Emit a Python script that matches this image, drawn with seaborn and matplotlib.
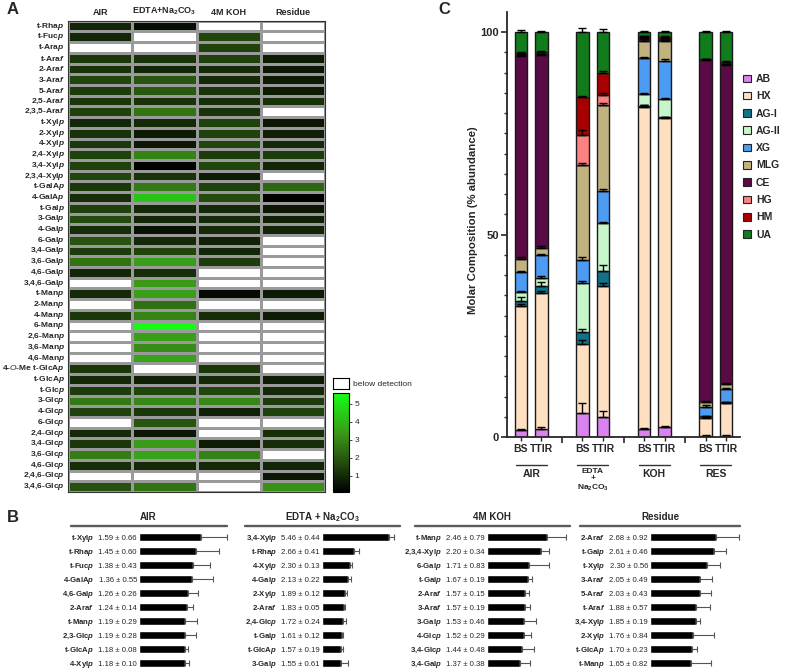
import numpy as np
import pandas as pd
import matplotlib
matplotlib.use('Agg')
import matplotlib.pyplot as plt
import seaborn as sns
from matplotlib.colors import LinearSegmentedColormap, ListedColormap
from matplotlib.patches import Patch
from matplotlib.lines import Line2D
from matplotlib.ticker import FixedLocator

sns.set_style('white')
plt.rcParams['font.family'] = ['Liberation Sans', 'DejaVu Sans']
plt.rcParams.update({'mathtext.fontset': 'custom',
                     'mathtext.rm': 'Liberation Sans',
                     'mathtext.it': 'Liberation Sans:italic',
                     'mathtext.bf': 'Liberation Sans:bold'})
try:
    plt.rcParams['mathtext.bfit'] = 'Liberation Sans:italic:bold'
    HAS_BFIT = True
except KeyError:
    HAS_BFIT = False

N = np.nan
# ---------------- Panel A data ----------------
heat_cols = ['AIR', 'EDTA+Na$_\\mathbf{2}$CO$_\\mathbf{3}$', '4M KOH', 'Residue']
heat_rows = ['t-Rhap', 't-Fucp', 't-Arap', 't-Araf', '2-Araf', '3-Araf', '5-Araf', '2,5-Araf',
             '2,3,5-Araf', 't-Xylp', '2-Xylp', '4-Xylp', '2,4-Xylp', '3,4-Xylp', '2,3,4-Xylp',
             't-GalAp', '4-GalAp', 't-Galp', '3-Galp', '4-Galp', '6-Galp', '3,4-Galp', '3,6-Galp',
             '4,6-Galp', '3,4,6-Galp', 't-Manp', '2-Manp', '4-Manp', '6-Manp', '2,6-Manp',
             '3,6-Manp', '4,6-Manp', '4-O-Me t-GlcAp', 't-GlcAp', 't-Glcp', '3-Glcp', '4-Glcp',
             '6-Glcp', '2,4-Glcp', '3,4-Glcp', '3,6-Glcp', '4,6-Glcp', '2,4,6-Glcp', '3,4,6-Glcp']
heat_air = [0.9, 0.9, N, 1.3, 1.2, 1.6, 1.4, 1.3, 1.5, 0.9, 1.2, 1.3, 1.5, 1.5, 1.6,
            1.3, 1.1, 1.5, 1.7, 1.1, 1.9, 1.4, 2.6, 0.9, N, 1.0, N, 1.3, N, N,
            N, N, 1.3, 1.0, 1.4, 2.7, 1.5, N, 1.0, 1.3, 2.8, 1.1, N, 1.8]
heat_edta = [0.4, N, N, 1.2, 0.9, 1.9, 2.0, 1.2, 2.6, 1.0, 0.7, 0.6, 2.9, 0.15, 1.2,
             2.7, 4.3, 1.0, 0.9, 0.5, 1.0, 1.6, 3.5, 1.1, 3.4, 3.5, 2.5, 2.9, 5.5, 3.5,
             3.1, 3.6, N, 0.8, 1.6, 3.0, 1.3, 1.9, 0.6, 3.4, 3.6, 1.0, N, 2.6]
heat_koh = [N, 1.6, 1.5, 1.5, 1.0, 1.0, 1.2, 1.1, 1.2, 1.5, 1.5, 1.6, 1.4, 1.6, 0.7,
            1.5, 1.7, 1.0, 1.0, 1.0, 0.8, 0.9, 1.4, N, N, 0.3, N, 1.1, N, N,
            N, N, 1.3, 1.0, 1.6, 3.0, 0.8, N, N, 0.7, 2.9, 1.0, N, N]
heat_res = [N, N, N, 0.7, 0.6, 0.7, 0.7, 1.2, N, 0.6, 0.8, 1.0, 1.4, 0.9, N,
            2.3, 0.15, 0.6, 0.8, 0.9, N, N, N, N, N, 0.7, N, 0.7, N, N,
            N, N, N, 0.7, 1.0, 1.4, 1.5, N, 1.1, 1.1, N, 0.9, 0.6, 3.2]

# ---------------- Panel B data ----------------
b_titles = ['AIR', 'EDTA + Na$_\\mathbf{2}$CO$_\\mathbf{3}$', '4M KOH', 'Residue']
b_air_names = ['t-Xylp', 't-Rhap', 't-Fucp', '4-GalAp', '4,6-Galp', '2-Araf', 't-Manp', '2,3-Glcp', 't-GlcAp', '4-Xylp']
b_air_vals = [1.59, 1.45, 1.38, 1.36, 1.26, 1.24, 1.19, 1.19, 1.18, 1.18]
b_air_errs = [0.66, 0.60, 0.43, 0.55, 0.26, 0.14, 0.29, 0.28, 0.08, 0.10]
b_edta_names = ['3,4-Xylp', 't-Rhap', '4-Xylp', '4-Galp', '2-Xylp', '2-Araf', '2,4-Glcp', 't-Galp', 't-GlcAp', '3-Galp']
b_edta_vals = [5.46, 2.66, 2.30, 2.13, 1.89, 1.83, 1.72, 1.61, 1.57, 1.55]
b_edta_errs = [0.44, 0.41, 0.13, 0.22, 0.12, 0.05, 0.24, 0.12, 0.19, 0.61]
b_koh_names = ['t-Manp', '2,3,4-Xylp', '6-Galp', 't-Galp', '2-Araf', '3-Araf', '3-Galp', '4-Glcp', '3,4-Glcp', '3,4-Galp']
b_koh_vals = [2.46, 2.20, 1.71, 1.67, 1.57, 1.57, 1.53, 1.52, 1.44, 1.37]
b_koh_errs = [0.79, 0.34, 0.83, 0.19, 0.15, 0.19, 0.46, 0.29, 0.48, 0.38]
b_res_names = ['2-Araf', 't-Galp', 't-Xylp', '3-Araf', '5-Araf', 't-Araf', '3,4-Xylp', '2-Xylp', 't-GlcAp', 't-Manp']
b_res_vals = [2.68, 2.61, 2.30, 2.05, 2.03, 1.88, 1.85, 1.76, 1.70, 1.65]
b_res_errs = [0.92, 0.46, 0.56, 0.49, 0.43, 0.57, 0.19, 0.84, 0.23, 0.82]

# ---------------- Panel C data ----------------
c_groups = ['AIR', 'EDTA\n+\nNa$_\\mathbf{2}$CO$_\\mathbf{3}$', 'KOH', 'RES']
c_bar_labels = ['BS', 'TTIR', 'BS', 'TTIR', 'BS', 'TTIR', 'BS', 'TTIR']
c_components = ['AB', 'HX', 'AG-I', 'AG-II', 'XG', 'MLG', 'CE', 'HG', 'HM', 'UA']
c_colors = ['#d982f0', '#fedfc2', '#137287', '#c8f6cb', '#4c9cf4', '#c0b380', '#5a0a45', '#fb8282', '#a80000', '#107c1c']
c_AB = [1.7, 2.1, 6.0, 5.0, 1.9, 2.4, 0.3, 0.3]
c_HX = [30.7, 33.5, 17.1, 32.4, 79.7, 76.3, 4.5, 8.0]
c_AGI = [1.3, 1.7, 2.9, 3.7, 0.3, 0.3, 0.3, 0.3]
c_AGII = [2.2, 2.1, 12.1, 11.7, 2.8, 4.4, 0.0, 0.0]
c_XG = [4.9, 5.5, 5.6, 8.0, 9.0, 9.5, 2.4, 3.2]
c_MLG = [3.3, 1.9, 23.6, 21.2, 4.2, 5.0, 1.2, 1.4]
c_CE = [50.0, 47.5, 0.0, 0.0, 0.5, 0.3, 84.5, 78.7]
c_HG = [0.2, 0.2, 7.3, 2.4, 0.2, 0.2, 0.2, 0.2]
c_HM = [0.5, 0.5, 9.3, 5.6, 0.4, 0.5, 0.0, 0.6]
c_UA = [5.2, 5.0, 16.1, 10.0, 1.0, 1.1, 6.6, 7.3]
e_AB = [0.3, 0.4, 2.5, 1.5, 0.3, 0.2, 0.1, 0.1]
e_HX = [0.5, 0.4, 0.8, 0.7, 0.5, 0.4, 0.2, 0.2]
e_AGI = [0.8, 1.0, 0.8, 1.5, 0.1, 0.1, 0.1, 0.1]
e_AGII = [0.2, 0.3, 0.4, 0.4, 0.3, 0.4, 0.0, 0.0]
e_XG = [0.3, 0.3, 0.7, 0.4, 0.3, 0.4, 0.3, 0.3]
e_MLG = [0.3, 0.3, 0.4, 0.6, 0.7, 0.7, 0.2, 0.2]
e_CE = [0.3, 0.3, 0.0, 0.0, 0.2, 0.2, 0.3, 0.3]
e_HG = [0.2, 0.2, 1.2, 0.7, 0.1, 0.1, 0.1, 0.1]
e_HM = [0.3, 0.3, 0.3, 0.4, 0.1, 0.1, 0.0, 0.3]
e_UA = [0.5, 0.4, 1.0, 0.8, 0.2, 0.2, 0.4, 0.4]
c_values = [c_AB, c_HX, c_AGI, c_AGII, c_XG, c_MLG, c_CE, c_HG, c_HM, c_UA]
c_errors = [e_AB, e_HX, e_AGI, e_AGII, e_XG, e_MLG, e_CE, e_HG, e_HM, e_UA]
c_positions = [0, 1, 3, 4, 6, 7, 9, 10]

# ---------------- helpers ----------------
W, H = 787, 672
fig = plt.figure(figsize=(W / 100, H / 100), dpi=100)


def px_axes(x0, y0, x1, y1):
    return fig.add_axes([x0 / W, 1 - y1 / H, (x1 - x0) / W, (y1 - y0) / H])


def glyco(name):
    base, suf = name[:-1], name[-1]
    base = base.replace('-O-', r'-$\mathit{O}$-')
    if HAS_BFIT:
        return base + r'$\mathbfit{' + suf + '}$'
    return base + r'$\mathit{' + suf + '}$'


# ---------------- Panel A ----------------
axA = px_axes(68, 20.7, 325, 492)
caxA = px_axes(333, 393, 349, 492)
dfA = pd.DataFrame({heat_cols[0]: heat_air, heat_cols[1]: heat_edta,
                    heat_cols[2]: heat_koh, heat_cols[3]: heat_res}, index=heat_rows)
cmap = LinearSegmentedColormap.from_list(
    'grn', [(0, '#000000'), (0.35, '#2a5a10'), (0.6, '#3a9a18'), (1.0, '#14ff14')])
sns.heatmap(dfA, cmap=cmap, vmin=0.1, vmax=5.6, ax=axA, cbar_ax=caxA,
            linewidths=0.7, linecolor='#262626', cbar_kws={'ticks': [1, 2, 3, 4, 5]})
na = dfA.isna()
sns.heatmap(na.astype(float), mask=~na, cmap=ListedColormap(['white']), cbar=False,
            linewidths=0.8, linecolor='#9a9a9a', ax=axA)
axA.set_yticks(np.arange(len(heat_rows)) + 0.5)
axA.set_yticklabels([glyco(r) for r in heat_rows], fontsize=6, fontweight='bold')
axA.xaxis.tick_top()
axA.set_xticks(np.arange(4) + 0.5)
axA.set_xticklabels(heat_cols, fontsize=6.5, fontweight='bold')
axA.tick_params(length=0, pad=2.5)
axA.set_xlabel('')
axA.set_ylabel('')
for sp in axA.spines.values():
    sp.set_visible(True)
    sp.set_color('#333333')
    sp.set_linewidth(0.8)
cb = axA.collections[0].colorbar
cb.ax.tick_params(labelsize=6, length=2, width=0.6, pad=2)
cb.outline.set_edgecolor('black')
cb.outline.set_linewidth(0.8)
# "below detection" key
axKey = px_axes(333, 378, 349, 389)
axKey.set_facecolor('white')
axKey.set_xticks([])
axKey.set_yticks([])
for sp in axKey.spines.values():
    sp.set_visible(True)
    sp.set_color('black')
    sp.set_linewidth(0.8)
fig.text(353 / W, 1 - 384 / H, 'below detection', fontsize=6, va='center', ha='left')

# ---------------- Panel B ----------------
b_data = [(b_air_names, b_air_vals, b_air_errs),
          (b_edta_names, b_edta_vals, b_edta_errs),
          (b_koh_names, b_koh_vals, b_koh_errs),
          (b_res_names, b_res_vals, b_res_errs)]
# layout: bar start px, xmax, px per unit, header line x1, x2, title centre
b_layout = [(139, 2.3, 39.0, 71, 227, 148),
            (322, 6.4, 12.2, 245, 400, 322),
            (487, 3.4, 24.4, 415, 570, 492),
            (650, 3.7, 24.6, 580, 740, 660)]
for (names, vals, errs), (x0, xmax, scale, l1, l2, tc), title in zip(b_data, b_layout, b_titles):
    ax = px_axes(x0, 530, x0 + xmax * scale, 670)
    sns.barplot(x=vals, y=names, orient='h', color='black', saturation=1, width=0.62,
                errorbar=None, ax=ax)
    ax.errorbar(vals, np.arange(len(vals)), xerr=[np.zeros(len(errs)), errs], fmt='none',
                ecolor='#555555', elinewidth=0.8, capsize=2, capthick=0.8)
    ax.set_xlim(0, xmax)
    ax.set_ylim(len(vals) - 0.5, -0.5)
    ax.set_xticks([])
    ax.set_yticks(np.arange(len(vals)))
    ax.set_yticklabels([f'{v:.2f} ± {e:.2f}' for v, e in zip(vals, errs)], fontsize=5.6)
    ax.tick_params(axis='y', length=0, pad=1.5)
    ax.set_xlabel('')
    ax.set_ylabel('')
    for sp in ax.spines.values():
        sp.set_visible(False)
    for i, n in enumerate(names):
        ax.annotate(glyco(n), xy=(0, i), xycoords=('axes fraction', 'data'),
                    xytext=(-45 * 0.72, 0), textcoords='offset points',
                    ha='right', va='center_baseline', fontsize=5.6, fontweight='bold')
    fig.text(tc / W, 1 - 517 / H, title, ha='center', va='center', fontsize=7, fontweight='bold')
    fig.add_artist(Line2D([l1 / W, l2 / W], [1 - 526 / H] * 2, color='#5a5a5a', lw=1.7))

# ---------------- Panel C ----------------
axC = px_axes(507, 12, 740, 437)
bottom = np.zeros(len(c_positions))
for comp, col, vals, errs in zip(c_components, c_colors, c_values, c_errors):
    vals = np.array(vals)
    sns.barplot(x=c_positions, y=vals, bottom=bottom, native_scale=True, width=0.62,
                color=col, saturation=1, edgecolor='#1a1a1a', linewidth=1.0,
                errorbar=None, ax=axC)
    top = bottom + vals
    keep = vals > 0
    axC.errorbar(np.array(c_positions)[keep], top[keep],
                 yerr=[np.zeros(keep.sum()), np.array(errs)[keep]], fmt='none',
                 ecolor='black', elinewidth=1.0, capsize=3, capthick=1.0)
    bottom = top
axC.set_xlim(-0.68, 10.68)
axC.set_ylim(0, 105)
sns.despine(ax=axC)
axC.spines['left'].set_linewidth(1.3)
axC.spines['bottom'].set_linewidth(1.3)
axC.set_yticks([0, 50, 100])
axC.set_yticklabels(['0', '50', '100'], fontsize=8, fontweight='bold')
axC.yaxis.set_minor_locator(FixedLocator(np.arange(5, 101, 5)))
axC.tick_params(axis='y', which='major', length=4, width=1.2, left=True, pad=2)
axC.tick_params(axis='y', which='minor', length=2.5, width=1.0, left=True)
axC.set_xticks(c_positions)
axC.set_xticklabels(c_bar_labels, fontsize=7.5, fontweight='bold')
axC.xaxis.set_minor_locator(FixedLocator([2, 5, 8]))
axC.tick_params(axis='x', which='major', length=3, width=1.0, bottom=True, pad=2)
axC.tick_params(axis='x', which='minor', length=4, width=1.2, bottom=True)
axC.set_xlabel('')
axC.set_ylabel('Molar Composition (% abundance)', fontsize=8.2, fontweight='bold')
axC.yaxis.set_label_coords((478 - 507) / 233, (437 - 220) / 425)
for gi, g in enumerate(c_groups):
    cx = (c_positions[2 * gi] + c_positions[2 * gi + 1]) / 2
    axC.plot([cx - 0.75, cx + 0.75], [-28 / 425 * 105] * 2, color='#333333', lw=1.0,
             clip_on=False)
    if '\n' in g:
        axC.annotate(g, xy=(cx, 0), xycoords=('data', 'axes fraction'), xytext=(0, -31 * 0.72),
                     textcoords='offset points', ha='center', va='top', fontsize=6,
                     fontweight='bold', linespacing=1.05, annotation_clip=False)
    else:
        axC.annotate(g, xy=(cx, 0), xycoords=('data', 'axes fraction'), xytext=(0, -37 * 0.72),
                     textcoords='offset points', ha='center', va='center', fontsize=7.5,
                     fontweight='bold', annotation_clip=False)
handles = [Patch(facecolor=c, edgecolor='#222222', linewidth=0.8, label=n)
           for n, c in zip(c_components, c_colors)]
fig.legend(handles=handles, loc='upper left', bbox_to_anchor=(743 / W, 1 - 74 / H),
           frameon=False, prop={'weight': 'bold', 'size': 7.5}, handlelength=0.75,
           handleheight=0.75, handletextpad=0.5, labelspacing=0.7, borderpad=0,
           borderaxespad=0)

# ---------------- Panel labels ----------------
fig.text(7 / W, 1 - 9 / H, 'A', fontsize=12, fontweight='bold', va='center', ha='left')
fig.text(7 / W, 1 - 518 / H, 'B', fontsize=12, fontweight='bold', va='center', ha='left')
fig.text(438 / W, 1 - 9 / H, 'C', fontsize=12, fontweight='bold', va='center', ha='left')

fig.savefig('out.png', dpi=100)
